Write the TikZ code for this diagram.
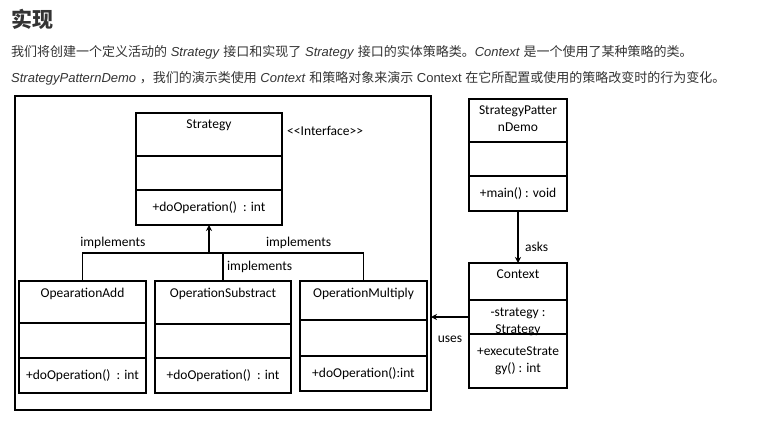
\documentclass[tikz,border=0pt]{standalone}
\usepackage{fontspec}
\usepackage{xcolor}
\usepackage{tikz}
\usetikzlibrary{arrows.meta,positioning}

\newfontfamily\cjk{Noto Sans CJK SC}
\newfontfamily\arialish{Liberation Sans}
\newfontfamily\calib{Carlito}
\definecolor{txtgray}{HTML}{333333}

\begin{document}
\begin{tikzpicture}[x=1pt, y=-1pt,
  cbox/.style={draw, line width=1.6pt, minimum width=#1, inner sep=0pt, outer sep=0pt,
    align=center, font=\calib\fontsize{13.5}{17}\selectfont},
  ttl/.style={anchor=north, inner sep=0pt, yshift=-7pt, align=center,
    font=\calib\fontsize{13.5}{17}\selectfont},
  lbl/.style={font=\calib\fontsize{13.5}{17}\selectfont},
  link/.style={line width=1.6pt},
  arr/.style={-{Stealth[length=6pt,width=6pt]}, line width=1.6pt},
  hdr/.style={anchor=west, inner sep=0pt, text=txtgray,
    font=\arialish\fontsize{13}{15}\selectfont},
]
  \useasboundingbox (0,0) rectangle (757,423);

  % Heading
  \node[hdr, font=\cjk\bfseries\fontsize{21}{24}\selectfont] (title) at (11,19) {实现};
  \node[hdr] (intro) at (11,52) {{\cjk 我们将创建一个定义活动的} \textit{Strategy} {\cjk 接口和实现了}
    \textit{Strategy} {\cjk 接口的实体策略类。}\textit{Context} {\cjk 是一个使用了某种策略的类。}};
  \node[hdr] (usage) at (11,78) {\textit{StrategyPatternDemo} {\cjk ，我们的演示类使用} \textit{Context}
    {\cjk 和策略对象来演示} Context {\cjk 在它所配置或使用的策略改变时的行为变化。}};

  % Frame round the strategies
  \node[draw, line width=1.6pt, minimum width=416pt, minimum height=314pt, anchor=north west,
    inner sep=0pt, outer sep=0pt] (pane) at (15,96) {};

  % Strategy interface
  \node[cbox=146pt, minimum height=43pt, anchor=north west, label={[ttl]north:Strategy}] (strat) at (136,113) {};
  \node[cbox=146pt, minimum height=34pt, below=0pt of strat] (stratattr) {};
  \node[cbox=146pt, minimum height=35pt, below=0pt of stratattr] (stratop) {+doOperation()\ \ : int};
  \node[lbl, anchor=west, inner sep=0pt] (iface) at ([xshift=5pt,yshift=-18pt]strat.north east) {<{}<Interface>{}>};

  % Concrete strategies
  \node[cbox=127pt, minimum height=42pt, anchor=north west, label={[ttl]north:OpearationAdd}] (add) at (19,281) {};
  \node[cbox=127pt, minimum height=35pt, below=0pt of add] (addattr) {};
  \node[cbox=127pt, minimum height=35pt, below=0pt of addattr] (addop) {+doOperation()\ \ : int};

  \node[cbox=136pt, minimum height=43pt, anchor=north west, label={[ttl]north:OperationSubstract}] (sub) at (155,281) {};
  \node[cbox=136pt, minimum height=34pt, below=0pt of sub] (subattr) {};
  \node[cbox=136pt, minimum height=35pt, below=0pt of subattr] (subop) {+doOperation()\ \ : int};

  \node[cbox=127pt, minimum height=39pt, anchor=north west, label={[ttl]north:OperationMultiply}] (mul) at (300,281) {};
  \node[cbox=127pt, minimum height=36pt, below=0pt of mul] (mulattr) {};
  \node[cbox=127pt, minimum height=35pt, below=0pt of mulattr] (mulop) {+doOperation():int};

  % Demo and context
  \node[cbox=98pt, minimum height=43pt, anchor=north west, label={[ttl]north:{StrategyPatter\\nDemo}}] (demo) at (469,99) {};
  \node[cbox=98pt, minimum height=34pt, below=0pt of demo] (demoattr) {};
  \node[cbox=98pt, minimum height=35pt, below=0pt of demoattr] (demoop) {+main() : void};

  \node[cbox=98pt, minimum height=37pt, anchor=north west, label={[ttl]north:Context}] (ctx) at (469,263) {};
  \node[cbox=98pt, minimum height=34pt, below=0pt of ctx,
    label={[ttl, anchor=center, yshift=2pt]center:{-strategy :\\Strategy}}] (ctxattr) {};
  \node[cbox=98pt, minimum height=54pt, below=0pt of ctxattr] (ctxop) {+executeStrate\\gy() : int};

  % Realisation
  \coordinate (bus) at (209,253);
  \draw[link] (add.north) |- node[lbl, pos=0.62, above] (implA) {implements} (bus);
  \draw[link] (mul.north) |- node[lbl, pos=0.71, above] (implC) {implements} (bus);
  \draw[link] (sub.north) -- node[lbl, right] (implB) {implements} (sub.north |- bus);
  \draw[arr] (bus) -- (stratop.south);

  % Use
  \draw[arr] (demoop.south) -- node[lbl, right=3pt, pos=0.69] (asks) {asks} (ctx.north);
  \draw[arr] (ctxattr.west) -- node[lbl, yshift=-22pt] (uses) {uses} (ctxattr.west -| pane.east);
\end{tikzpicture}
\end{document}
